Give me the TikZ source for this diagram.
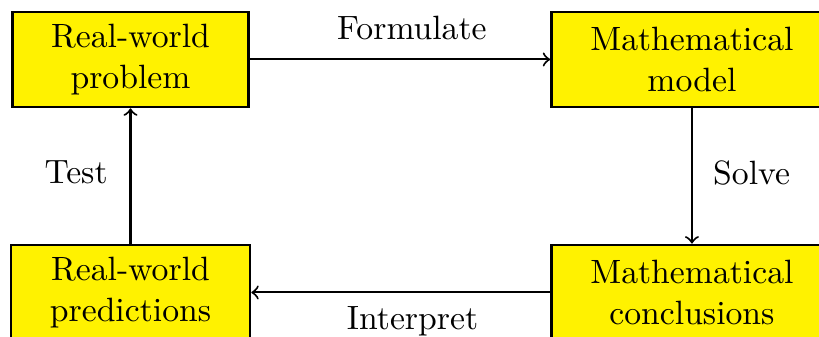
\documentclass[tikz,border=0pt]{standalone}
\usepackage{tikz}

\tikzset{box/.style={draw, thick, fill=yellow, align=center, inner xsep=11.5pt, minimum height=28.2pt},
         lbl/.style={inner sep=5.5pt}}

\begin{document}
\begin{tikzpicture}[auto, semithick]

    \useasboundingbox (-1.361, -0.464) rectangle (7.180, 3.05);

    \node[box] (a) at (0, 2.43) {Real-world\\problem};
    \node[box] (b) at (5.855, 2.43) {Mathematical\\model};
    \node[box] (c) at (5.855, 0) {Mathematical\\conclusions};
    \node[box] (d) at (0, 0) {Real-world\\predictions};

    \draw [->] (a) to node[lbl, xshift=3.5pt] {Formulate} (b);
    \draw [->] (b) to node[lbl, xshift=0.5pt, yshift=1pt] {Solve} (c);
    \draw [->] (c) to node[lbl, xshift=3.5pt, yshift=1.5pt] {Interpret} (d);
    \draw [->] (d) to node[lbl, xshift=-1pt, yshift=1pt] {Test} (a);

  \end{tikzpicture}
\end{document}
